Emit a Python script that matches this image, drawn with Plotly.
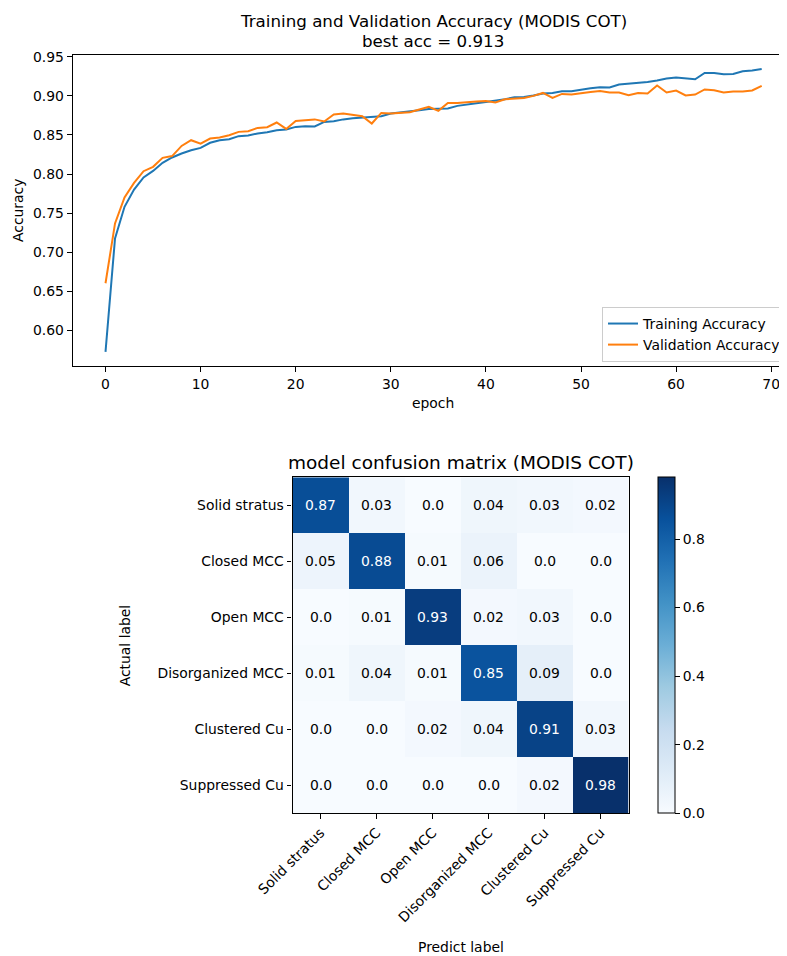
import plotly.graph_objects as go

# ---------------- data ----------------
epochs = list(range(70))
train_acc = [0.572, 0.7175, 0.758, 0.780, 0.7956, 0.804, 0.8143, 0.8212, 0.8263, 0.8305,
             0.8335, 0.840, 0.8433, 0.8446, 0.8485, 0.8494, 0.852, 0.8536, 0.8562, 0.857,
             0.8604, 0.8613, 0.8609, 0.8668, 0.8677, 0.870, 0.8713, 0.8724, 0.8732, 0.874,
             0.8775, 0.8788, 0.8796, 0.8818, 0.8834, 0.8839, 0.8839, 0.8873, 0.8894, 0.8908,
             0.8924, 0.8937, 0.8958, 0.8984, 0.8988, 0.9006, 0.9031, 0.9039, 0.9061, 0.9061,
             0.9083, 0.910, 0.9112, 0.9108, 0.9147, 0.9155, 0.9163, 0.918, 0.9198, 0.9223,
             0.9236, 0.9223, 0.9214, 0.9295, 0.9295, 0.9278, 0.9282, 0.9317, 0.9326, 0.9346]
val_acc = [0.660, 0.7367, 0.770, 0.7887, 0.8036, 0.8092, 0.8207, 0.823, 0.836, 0.8433,
           0.839, 0.8455, 0.8468, 0.8497, 0.854, 0.8549, 0.8591, 0.860, 0.866, 0.8578,
           0.868, 0.8693, 0.870, 0.8673, 0.8762, 0.8775, 0.876, 0.874, 0.8647, 0.8783,
           0.8775, 0.8788, 0.8792, 0.8827, 0.886, 0.8809, 0.8911, 0.8911, 0.8916, 0.8928,
           0.8937, 0.8916, 0.8958, 0.8971, 0.8975, 0.9001, 0.9039, 0.8975, 0.9026, 0.9018,
           0.9039, 0.9052, 0.9065, 0.9044, 0.9044, 0.901, 0.9039, 0.9031, 0.9134, 0.9044,
           0.907, 0.9006, 0.9018, 0.9083, 0.9074, 0.9044, 0.9057, 0.9057, 0.907, 0.913]
best_acc = 0.913

classes = ["Solid stratus", "Closed MCC", "Open MCC", "Disorganized MCC",
           "Clustered Cu", "Suppressed Cu"]
conf_matrix = [
    [0.87, 0.03, 0.0, 0.04, 0.03, 0.02],
    [0.05, 0.88, 0.01, 0.06, 0.0, 0.0],
    [0.0, 0.01, 0.93, 0.02, 0.03, 0.0],
    [0.01, 0.04, 0.01, 0.85, 0.09, 0.0],
    [0.0, 0.0, 0.02, 0.04, 0.91, 0.03],
    [0.0, 0.0, 0.0, 0.0, 0.02, 0.98],
]
acc_ticks = [0.60, 0.65, 0.70, 0.75, 0.80, 0.85, 0.90, 0.95]
epoch_ticks = [0, 10, 20, 30, 40, 50, 60, 70]
cbar_ticks = [0.0, 0.2, 0.4, 0.6, 0.8]

# ---------------- helpers ----------------
# the page body has an 8px margin, so the figure is drawn 8px in from the window edge
OFF = 8
WIN_W, WIN_H = 787, 956
W, H = WIN_W - OFF, WIN_H - OFF
def px(x):
    return (x - OFF) / W
def py(y):
    return 1 - (y - OFF) / H

FONT = "DejaVu Sans"
FS = 13.9
BLUE = "#1f77b4"
ORANGE = "#ff7f0e"
blues = [[0.0, "#f7fbff"], [0.125, "#deebf7"], [0.25, "#c6dbef"], [0.375, "#9ecae1"],
         [0.5, "#6baed6"], [0.625, "#4292c6"], [0.75, "#2171b5"], [0.875, "#08519c"],
         [1.0, "#08306b"]]

fig = go.Figure()
fig.add_trace(go.Scatter(x=epochs, y=train_acc, mode="lines", name="Training Accuracy",
                         line=dict(color=BLUE, width=2), xaxis="x", yaxis="y"))
fig.add_trace(go.Scatter(x=epochs, y=val_acc, mode="lines", name="Validation Accuracy",
                         line=dict(color=ORANGE, width=2), xaxis="x", yaxis="y"))

mx0, mx1 = 292.5, 628.5
my0, my1 = 477.3, 813.3

zmax = max(max(r) for r in conf_matrix)
fig.add_trace(go.Heatmap(
    z=conf_matrix, x=list(range(len(classes))), y=list(range(len(classes))),
    colorscale=blues, zmin=0, zmax=zmax, xaxis="x2", yaxis="y2", showlegend=False,
    hoverinfo="skip",
    colorbar=dict(x=px(658.3), xanchor="left", y=py((my0 + my1) / 2), yanchor="middle",
                  lenmode="pixels", len=my1 - my0, thickness=16.7, xpad=0, ypad=0,
                  outlinewidth=1, outlinecolor="black",
                  tickvals=cbar_ticks, ticktext=[f"{t:.1f}" for t in cbar_ticks],
                  ticks="outside", ticklen=4.9, tickwidth=1.1, tickcolor="black",
                  tickfont=dict(family=FONT, size=FS, color="black"))))

axis_common = dict(showgrid=False, zeroline=False, showline=True, linecolor="black",
                   linewidth=1.1, ticks="outside", ticklen=4.9, tickwidth=1.1,
                   tickcolor="black", tickfont=dict(family=FONT, size=FS, color="black"))

x_left, x_right = 72.7, 787.0
y_top, y_bot = 55.0, 366.0
px_per_epoch = 9.51
x0 = -3.45
x1 = x0 + (x_right - x_left) / px_per_epoch

fig.update_layout(
    width=W, height=H,
    margin=dict(l=0, r=0, t=0, b=0, autoexpand=False),
    paper_bgcolor="white", plot_bgcolor="white",
    font=dict(family=FONT, size=FS, color="black"),
    xaxis=dict(domain=[px(x_left), 1.0], range=[x0, x1], anchor="y",
               tickvals=epoch_ticks, mirror=True, **axis_common),
    yaxis=dict(domain=[py(y_bot), py(y_top)], range=[0.554, 0.9525], anchor="x",
               tickvals=acc_ticks, tickformat=".2f", **axis_common),
    xaxis2=dict(domain=[px(mx0), px(mx1)], range=[-0.5, 5.5], anchor="y2",
                tickvals=list(range(len(classes))), ticktext=classes, tickangle=-45,
                mirror=True, **axis_common),
    yaxis2=dict(domain=[py(my1), py(my0)], range=[5.5, -0.5], anchor="x2",
                tickvals=list(range(len(classes))), ticktext=classes,
                mirror=True, **axis_common),
    legend=dict(x=px(602), y=py(307), xanchor="left", yanchor="top",
                bgcolor="rgba(255,255,255,0.8)", bordercolor="#cccccc", borderwidth=1,
                font=dict(family=FONT, size=FS, color="black")),
    showlegend=True,
)

ax_center = (x_left + 794.0) / 2
ann = []
ann.append(dict(text="Training and Validation Accuracy (MODIS COT)", x=px(ax_center), y=py(20.5),
                xref="paper", yref="paper", showarrow=False, xanchor="center", yanchor="middle",
                font=dict(family=FONT, size=16.7, color="black")))
ann.append(dict(text=f"best acc = {best_acc}", x=px(ax_center), y=py(40.5),
                xref="paper", yref="paper", showarrow=False, xanchor="center", yanchor="middle",
                font=dict(family=FONT, size=16.7, color="black")))
ann.append(dict(text="Accuracy", x=px(17.5), y=py((y_top + y_bot) / 2), textangle=-90,
                xref="paper", yref="paper", showarrow=False, xanchor="center", yanchor="middle",
                font=dict(family=FONT, size=FS, color="black")))
ann.append(dict(text="epoch", x=px(ax_center), y=py(403), xref="paper", yref="paper",
                showarrow=False, xanchor="center", yanchor="middle",
                font=dict(family=FONT, size=FS, color="black")))
ann.append(dict(text="model confusion matrix (MODIS COT)", x=px((mx0 + mx1) / 2), y=py(463),
                xref="paper", yref="paper", showarrow=False, xanchor="center", yanchor="middle",
                font=dict(family=FONT, size=18.5, color="black")))
ann.append(dict(text="Actual label", x=px(125), y=py((my0 + my1) / 2), textangle=-90,
                xref="paper", yref="paper", showarrow=False, xanchor="center", yanchor="middle",
                font=dict(family=FONT, size=FS, color="black")))
ann.append(dict(text="Predict label", x=px((mx0 + mx1) / 2), y=py(947),
                xref="paper", yref="paper", showarrow=False, xanchor="center", yanchor="middle",
                font=dict(family=FONT, size=FS, color="black")))

thresh = zmax / 2
for i, row in enumerate(conf_matrix):
    for j, v in enumerate(row):
        ann.append(dict(text=str(v), x=j, y=i, xref="x2", yref="y2", showarrow=False,
                        font=dict(family=FONT, size=FS,
                                  color="white" if v > thresh else "black")))
fig.update_layout(annotations=ann)

fig.write_html("out.html")
